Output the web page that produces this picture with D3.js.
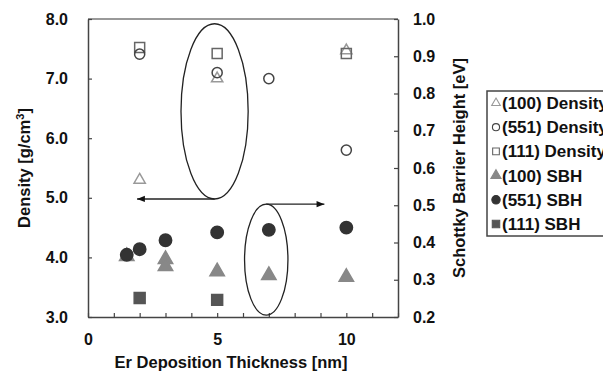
<!DOCTYPE html>
<html>
<head>
<meta charset="utf-8">
<style>
  body { margin: 0; background: #fff; }
  svg { display: block; font-family: "Liberation Sans", Arial, sans-serif; font-weight: bold; }
</style>
</head>
<body>
<script src="https://d3js.org/d3.v7.min.js"></script>
<svg width="603" height="371"></svg>
<script>
// Er deposition thickness [nm]
var x100Density = [2, 5, 10];
var y100Density = [5.3, 7.0, 7.47];
var x551Density = [2, 5, 7, 10];
var y551Density = [7.41, 7.1, 7.0, 5.8];
var x111Density = [2, 5, 10];
var y111Density = [7.52, 7.42, 7.42];

// Schottky barrier height [eV]
var x100SBH = [1.5, 3, 3, 5, 7, 10];
var y100SBH = [0.363, 0.355, 0.336, 0.322, 0.312, 0.307];
var x551SBH = [1.5, 2, 3, 5, 7, 10];
var y551SBH = [0.367, 0.382, 0.406, 0.427, 0.434, 0.440];
var x111SBH = [2, 5];
var y111SBH = [0.251, 0.246];

var xTickLabels = [0, 5, 10];
var densityTicks = [3, 4, 5, 6, 7, 8];
var sbhTicks = [0.2, 0.3, 0.4, 0.5, 0.6, 0.7, 0.8, 0.9, 1.0];
var legendLabels = ["(100) Density", "(551) Density", "(111) Density", "(100) SBH", "(551) SBH", "(111) SBH"];

var svg = d3.select("svg");
var pL = 88, pR = 398, pT = 19, pB = 317;

var x = d3.scaleLinear().domain([0, 12]).range([pL, pR]);
var yL = d3.scaleLinear().domain([3, 8]).range([pB, pT]);
var yR = d3.scaleLinear().domain([0.2, 1.0]).range([pB, pT]);

// frame top line
svg.append("line").attr("x1", pL).attr("x2", pR).attr("y1", pT).attr("y2", pT)
    .attr("stroke", "#777").attr("stroke-width", 1.5);

var xAxis = svg.append("g").attr("transform", "translate(0," + pB + ")")
    .call(d3.axisBottom(x).tickValues(d3.range(0, 13)).tickSizeInner(-4).tickSizeOuter(0)
        .tickFormat(d => xTickLabels.includes(d) ? d : ""));
var yAxisL = svg.append("g").attr("transform", "translate(" + pL + ",0)")
    .call(d3.axisLeft(yL).tickValues(densityTicks).tickSizeInner(-4).tickSizeOuter(0)
        .tickFormat(d3.format(".1f")));
var yAxisR = svg.append("g").attr("transform", "translate(" + pR + ",0)")
    .call(d3.axisRight(yR).tickValues(sbhTicks).tickSizeInner(-4).tickSizeOuter(0)
        .tickFormat(d3.format(".1f")));

[xAxis, yAxisL, yAxisR].forEach(function(g) {
    g.select(".domain").attr("stroke", "#444").attr("stroke-width", 1.5);
    g.selectAll(".tick line").attr("stroke", "#444").attr("stroke-width", 1.2);
    g.selectAll("text").attr("font-size", 16).attr("font-family", null).attr("fill", "#111");
});
xAxis.selectAll("text").attr("y", 17);
yAxisL.selectAll("text").attr("x", -20);
yAxisR.selectAll("text").attr("x", 15);

// axis titles
svg.append("text").attr("x", (x(0) + x(12)) / 2 - 12).attr("y", 368)
    .attr("text-anchor", "middle").attr("font-size", 16.5).attr("fill", "#111")
    .text("Er Deposition Thickness [nm]");
var tl = svg.append("text").attr("transform", "translate(30," + (pT + pB) / 2 + ") rotate(-90)")
    .attr("text-anchor", "middle").attr("font-size", 16.5).attr("fill", "#111");
tl.append("tspan").text("Density [g/cm");
tl.append("tspan").attr("font-size", 11).attr("dy", -6).text("3");
tl.append("tspan").attr("dy", 6).text("]");
svg.append("text").attr("transform", "translate(465," + (pT + pB) / 2 + ") rotate(-90)")
    .attr("text-anchor", "middle").attr("font-size", 16.5).attr("fill", "#111")
    .text("Schottky Barrier Height [eV]");

// marker styles
var styles = [
    {sym: d3.symbolTriangle, size: 55, fill: "none", stroke: "#999"},
    {sym: d3.symbolCircle, size: 80, fill: "none", stroke: "#444"},
    {sym: d3.symbolSquare, size: 100, fill: "none", stroke: "#666"},
    {sym: d3.symbolTriangle, size: 90, fill: "#888", stroke: "#888"},
    {sym: d3.symbolCircle, size: 120, fill: "#333", stroke: "#333"},
    {sym: d3.symbolSquare, size: 120, fill: "#555", stroke: "#555"}
];
var series = [
    {xs: x100Density, ys: y100Density, sc: yL},
    {xs: x551Density, ys: y551Density, sc: yL},
    {xs: x111Density, ys: y111Density, sc: yL},
    {xs: x100SBH, ys: y100SBH, sc: yR},
    {xs: x551SBH, ys: y551SBH, sc: yR},
    {xs: x111SBH, ys: y111SBH, sc: yR}
];
var drawOrder = [3, 5, 4, 0, 2, 1];
drawOrder.forEach(function(k) {
    var s = series[k], st = styles[k];
    svg.append("g").selectAll("path")
        .data(s.xs.map((v, i) => [v, s.ys[i]]))
        .enter().append("path")
        .attr("transform", d => "translate(" + x(d[0]) + "," + s.sc(d[1]) + ")")
        .attr("d", d3.symbol().type(st.sym).size(st.size))
        .attr("fill", st.fill).attr("stroke", st.stroke).attr("stroke-width", 1.5);
});

// annotations: ellipses with arrows
svg.append("defs").append("marker").attr("id", "ah")
    .attr("viewBox", "0 0 10 10").attr("refX", 10).attr("refY", 5)
    .attr("markerWidth", 8).attr("markerHeight", 6).attr("orient", "auto")
    .append("path").attr("d", "M0,1 L10,5 L0,9 Z").attr("fill", "#111");

var bigCx = 4.9, bigTop = 7.92, bigBottom = 4.98, bigRx = 1.3;
svg.append("ellipse").attr("cx", x(bigCx)).attr("cy", (yL(bigTop) + yL(bigBottom)) / 2)
    .attr("rx", x(bigRx) - x(0)).attr("ry", (yL(bigBottom) - yL(bigTop)) / 2)
    .attr("fill", "none").attr("stroke", "#222").attr("stroke-width", 1.3);
svg.append("line").attr("x1", x(bigCx)).attr("y1", yL(bigBottom)).attr("x2", x(1.9)).attr("y2", yL(bigBottom))
    .attr("stroke", "#222").attr("stroke-width", 1.3).attr("marker-end", "url(#ah)");

var smCx = 6.9, smTop = 0.503, smBottom = 0.205, smRx = 0.84;
svg.append("ellipse").attr("cx", x(smCx)).attr("cy", (yR(smTop) + yR(smBottom)) / 2)
    .attr("rx", x(smRx) - x(0)).attr("ry", (yR(smBottom) - yR(smTop)) / 2)
    .attr("fill", "none").attr("stroke", "#222").attr("stroke-width", 1.3);
svg.append("line").attr("x1", x(smCx)).attr("y1", yR(smTop)).attr("x2", x(9.15)).attr("y2", yR(smTop))
    .attr("stroke", "#222").attr("stroke-width", 1.3).attr("marker-end", "url(#ah)");

// legend
var lg = svg.append("g").attr("transform", "translate(487,91)");
lg.append("rect").attr("width", 140).attr("height", 145)
    .attr("fill", "#fff").attr("stroke", "#444").attr("stroke-width", 1.5);
var legendSize = [32, 40, 45, 45, 55, 55];
legendLabels.forEach(function(lab, i) {
    var yy = 12 + i * 24.2, st = styles[i];
    lg.append("path").attr("transform", "translate(9," + yy + ")")
        .attr("d", d3.symbol().type(st.sym).size(legendSize[i]))
        .attr("fill", st.fill).attr("stroke", st.stroke).attr("stroke-width", 1.1);
    lg.append("text").attr("x", 15).attr("y", yy + 6).attr("font-size", 17).attr("fill", "#111").text(lab);
});
</script>
</body>
</html>
